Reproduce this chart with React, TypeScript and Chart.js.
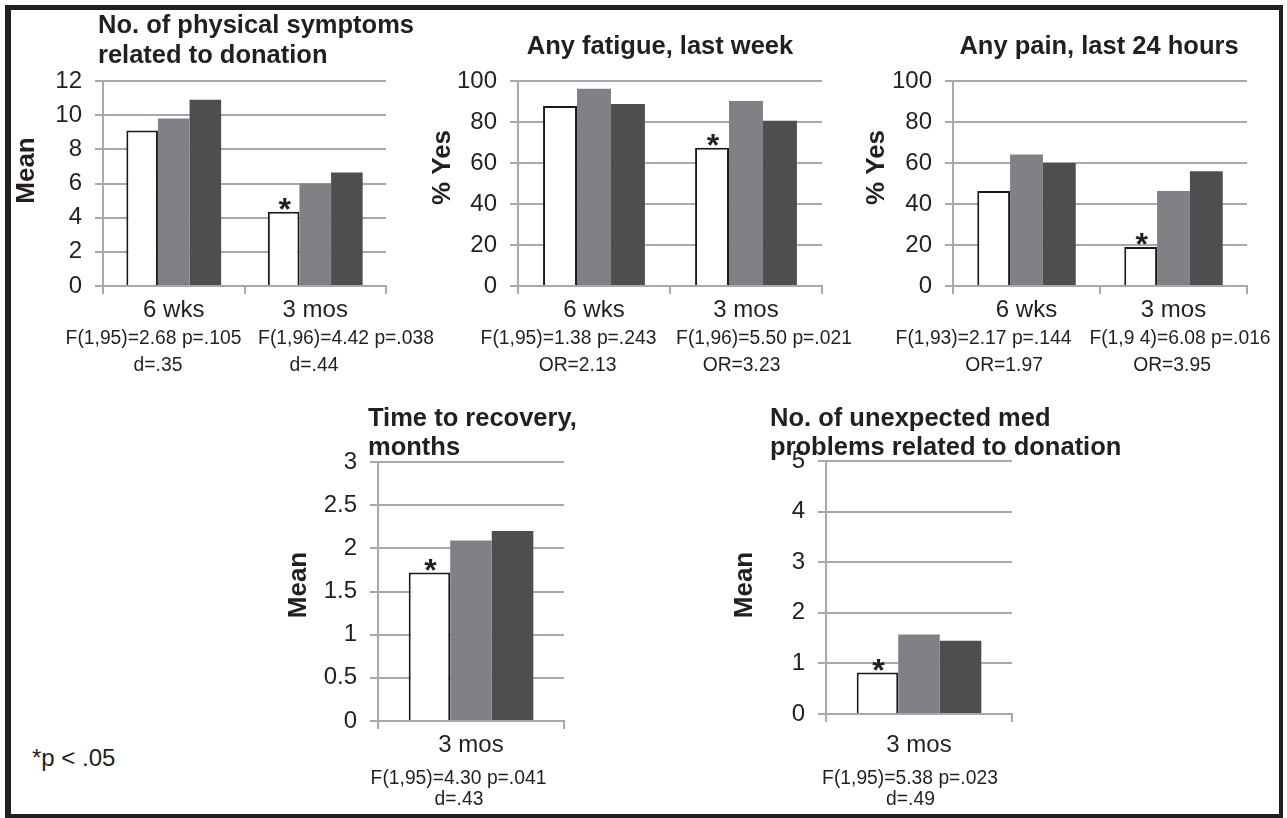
import React, { useEffect, useRef } from "react";
import { Chart, registerables } from "chart.js";

Chart.register(...registerables);

// ---------------- DATA ----------------
const twoTimepoints = ["6 wks", "3 mos"];
const oneTimepoint = ["3 mos"];
const groupNames = ["Group 1", "Group 2", "Group 3"];

// No. of physical symptoms related to donation (Mean)
const symptomsG1 = [9.1, 4.35];
const symptomsG2 = [9.8, 6.0];
const symptomsG3 = [10.9, 6.65];
const symptomsStars = [false, true];
const symptomsStats = ["F(1,95)=2.68 p=.105", "d=.35", "F(1,96)=4.42 p=.038", "d=.44"];
const symptomsTicks = { max: 12, step: 2 };

// Any fatigue, last week (% Yes)
const fatigueG1 = [87.8, 67.4];
const fatigueG2 = [96.2, 90.2];
const fatigueG3 = [88.8, 80.6];
const fatigueStars = [false, true];
const fatigueStats = ["F(1,95)=1.38 p=.243", "OR=2.13", "F(1,96)=5.50 p=.021", "OR=3.23"];
const fatigueTicks = { max: 100, step: 20 };

// Any pain, last 24 hours (% Yes)
const painG1 = [46.3, 19.0];
const painG2 = [64.1, 46.3];
const painG3 = [60.0, 56.0];
const painStars = [false, true];
const painStats = ["F(1,93)=2.17 p=.144", "OR=1.97", "F(1,9 4)=6.08 p=.016", "OR=3.95"];
const painTicks = { max: 100, step: 20 };

// Time to recovery, months (Mean)
const recoveryG1 = [1.72];
const recoveryG2 = [2.09];
const recoveryG3 = [2.2];
const recoveryStars = [true];
const recoveryStats = ["F(1,95)=4.30 p=.041", "d=.43"];
const recoveryTicks = { max: 3, step: 0.5 };

// No. of unexpected med problems related to donation (Mean)
const medG1 = [0.82];
const medG2 = [1.57];
const medG3 = [1.45];
const medStars = [true];
const medStats = ["F(1,95)=5.38 p=.023", "d=.49"];
const medTicks = { max: 5, step: 1 };

// ---------------- STYLE ----------------
const FONT = '"Liberation Sans", Arial, Helvetica, sans-serif';
const TEXT = "#231f20";
const GRID = "#a7a9ac";
const FILLS = ["#ffffff", "#808184", "#4d4e50"];
const TICK_SIZE = 24;
const TITLE_SIZE = 25.5;
const STATS_SIZE = 19.3;

type Pt = { x: number; y: number };
type Spec = {
  labels: string[];
  series: number[][];
  stars: boolean[];
  stats: string[];
  statPos: Pt[];
  ticks: { max: number; step: number };
  titles: { text: string; x: number; y: number; align: CanvasTextAlign }[];
  yTitle: { text: string; x: number; y: number };
  box: { x: number; y: number; w: number; h: number };
  plot: { l: number; r: number; t: number; b: number };
  xPad: number;
};

const specs: Spec[] = [
  {
    labels: twoTimepoints,
    series: [symptomsG1, symptomsG2, symptomsG3],
    stars: symptomsStars,
    stats: symptomsStats,
    statPos: [
      { x: 153.5, y: 339 },
      { x: 158, y: 366 },
      { x: 346, y: 339 },
      { x: 314, y: 366 },
    ],
    ticks: symptomsTicks,
    titles: [
      { text: "No. of physical symptoms", x: 98, y: 33, align: "left" },
      { text: "related to donation", x: 98, y: 63, align: "left" },
    ],
    yTitle: { text: "Mean", x: 27, y: 170.5 },
    box: { x: 12, y: 10, w: 448, h: 385 },
    plot: { l: 103, r: 386, t: 81, b: 286 },
    xPad: 1.6,
  },
  {
    labels: twoTimepoints,
    series: [fatigueG1, fatigueG2, fatigueG3],
    stars: fatigueStars,
    stats: fatigueStats,
    statPos: [
      { x: 568.5, y: 339 },
      { x: 577.5, y: 366 },
      { x: 764, y: 339 },
      { x: 741.5, y: 366 },
    ],
    ticks: fatigueTicks,
    titles: [{ text: "Any fatigue, last week", x: 660, y: 54, align: "center" }],
    yTitle: { text: "% Yes", x: 443, y: 167.5 },
    box: { x: 425, y: 10, w: 445, h: 385 },
    plot: { l: 518, r: 822, t: 81, b: 286 },
    xPad: 1.6,
  },
  {
    labels: twoTimepoints,
    series: [painG1, painG2, painG3],
    stars: painStars,
    stats: painStats,
    statPos: [
      { x: 983.5, y: 339 },
      { x: 1004, y: 366 },
      { x: 1180, y: 339 },
      { x: 1172, y: 366 },
    ],
    ticks: painTicks,
    titles: [{ text: "Any pain, last 24 hours", x: 1099, y: 54, align: "center" }],
    yTitle: { text: "% Yes", x: 877, y: 167.5 },
    box: { x: 855, y: 10, w: 423, h: 385 },
    plot: { l: 953, r: 1247, t: 81, b: 286 },
    xPad: 1.6,
  },
  {
    labels: oneTimepoint,
    series: [recoveryG1, recoveryG2, recoveryG3],
    stars: recoveryStars,
    stats: recoveryStats,
    statPos: [
      { x: 458.5, y: 778.5 },
      { x: 459, y: 800 },
    ],
    ticks: recoveryTicks,
    titles: [
      { text: "Time to recovery,", x: 368, y: 425.5, align: "left" },
      { text: "months", x: 368, y: 455, align: "left" },
    ],
    yTitle: { text: "Mean", x: 298.5, y: 585 },
    box: { x: 250, y: 395, w: 390, h: 417 },
    plot: { l: 378, r: 564, t: 462, b: 721 },
    xPad: 2.1,
  },
  {
    labels: oneTimepoint,
    series: [medG1, medG2, medG3],
    stars: medStars,
    stats: medStats,
    statPos: [
      { x: 910, y: 778.5 },
      { x: 910.5, y: 800 },
    ],
    ticks: medTicks,
    titles: [
      { text: "No. of unexpected med", x: 770, y: 425.5, align: "left" },
      { text: "problems related to donation", x: 770, y: 455, align: "left" },
    ],
    yTitle: { text: "Mean", x: 745, y: 585 },
    box: { x: 700, y: 395, w: 450, h: 417 },
    plot: { l: 826, r: 1012, t: 461, b: 714 },
    xPad: 9.1,
  },
];

function makeConfig(spec: Spec): any {
  const { box, plot } = spec;
  const ox = box.x;
  const oy = box.y;
  const annotPlugin = {
    id: "annotations",
    afterDatasetsDraw(chart: any) {
      const ctx: CanvasRenderingContext2D = chart.ctx;
      ctx.save();
      ctx.fillStyle = TEXT;
      // titles
      ctx.font = `bold ${TITLE_SIZE}px ${FONT}`;
      ctx.textBaseline = "alphabetic";
      for (const t of spec.titles) {
        ctx.textAlign = t.align;
        ctx.fillText(t.text, t.x - ox, t.y - oy);
      }
      // y-axis title
      ctx.save();
      ctx.font = `bold 26px ${FONT}`;
      ctx.translate(spec.yTitle.x - ox, spec.yTitle.y - oy);
      ctx.rotate(-Math.PI / 2);
      ctx.textAlign = "center";
      ctx.textBaseline = "middle";
      ctx.fillText(spec.yTitle.text, 0, 0);
      ctx.restore();
      // statistics
      ctx.font = `${STATS_SIZE}px ${FONT}`;
      ctx.textAlign = "center";
      ctx.textBaseline = "middle";
      spec.stats.forEach((s, i) => {
        const p = spec.statPos[i];
        ctx.fillText(s, p.x - ox, p.y - oy);
      });
      // significance stars
      const meta = chart.getDatasetMeta(0);
      ctx.font = `bold 32px ${FONT}`;
      ctx.textBaseline = "alphabetic";
      spec.stars.forEach((flag, i) => {
        if (!flag) return;
        const el = meta.data[i];
        ctx.fillText("*", el.x + 1, el.y + 8);
      });
      ctx.restore();
    },
  };

  return {
    type: "bar",
    data: {
      labels: spec.labels,
      datasets: spec.series.map((vals, i) => ({
        label: groupNames[i],
        data: vals,
        backgroundColor: FILLS[i],
        borderColor: i === 0 ? "#1a1a1a" : FILLS[i],
        borderWidth: i === 0 ? 2 : 0,
        borderSkipped: "bottom",
        categoryPercentage: 0.67,
        barPercentage: 1.0,
      })),
    },
    plugins: [annotPlugin],
    options: {
      animation: false,
      responsive: true,
      maintainAspectRatio: false,
      devicePixelRatio: 1,
      layout: {
        padding: {
          left: 0,
          top: plot.t - box.y,
          right: box.x + box.w - plot.r,
          bottom: 0,
        },
      },
      plugins: {
        legend: { display: false },
        tooltip: { enabled: false },
        title: { display: false },
      },
      scales: {
        x: {
          type: "category",
          offset: true,
          grid: {
            offset: true,
            drawOnChartArea: false,
            drawTicks: true,
            tickLength: 8,
            color: GRID,
            lineWidth: 2,
          },
          border: { display: true, color: GRID, width: 2 },
          ticks: {
            color: TEXT,
            font: { size: TICK_SIZE, family: FONT },
            padding: spec.xPad,
            maxRotation: 0,
            autoSkip: false,
          },
          afterFit: (s: any) => {
            s.height = box.y + box.h - plot.b;
          },
        },
        y: {
          min: 0,
          max: spec.ticks.max,
          grid: {
            color: GRID,
            lineWidth: 2,
            drawTicks: true,
            tickLength: 8,
          },
          border: { display: true, color: GRID, width: 2 },
          ticks: {
            stepSize: spec.ticks.step,
            color: TEXT,
            font: { size: TICK_SIZE, family: FONT },
            padding: 13,
            callback: (v: any) => String(v),
          },
          afterFit: (s: any) => {
            s.width = plot.l - box.x;
          },
        },
      },
    },
  };
}

function Panel({ spec }: { spec: Spec }) {
  const ref = useRef<HTMLCanvasElement | null>(null);
  useEffect(() => {
    if (!ref.current) return;
    const chart = new Chart(ref.current, makeConfig(spec));
    return () => chart.destroy();
  }, [spec]);
  return (
    <div
      style={{
        position: "absolute",
        left: spec.box.x,
        top: spec.box.y,
        width: spec.box.w,
        height: spec.box.h,
      }}
    >
      <canvas ref={ref} />
    </div>
  );
}

export default function App() {
  return (
    <div>
      <div
        style={{
          position: "absolute",
          left: 5,
          top: 5,
          width: 1278,
          height: 813,
          boxSizing: "border-box",
          borderStyle: "solid",
          borderColor: "#231f20",
          borderWidth: "5px 4px 4px 6px",
          background: "#ffffff",
        }}
      />
      {specs.map((s, i) => (
        <Panel key={i} spec={s} />
      ))}
      <div
        style={{
          position: "absolute",
          left: 32,
          top: 745.7,
          fontFamily: FONT,
          fontSize: 24,
          lineHeight: "24px",
          color: TEXT,
          whiteSpace: "nowrap",
        }}
      >
        *p &lt; .05
      </div>
    </div>
  );
}
